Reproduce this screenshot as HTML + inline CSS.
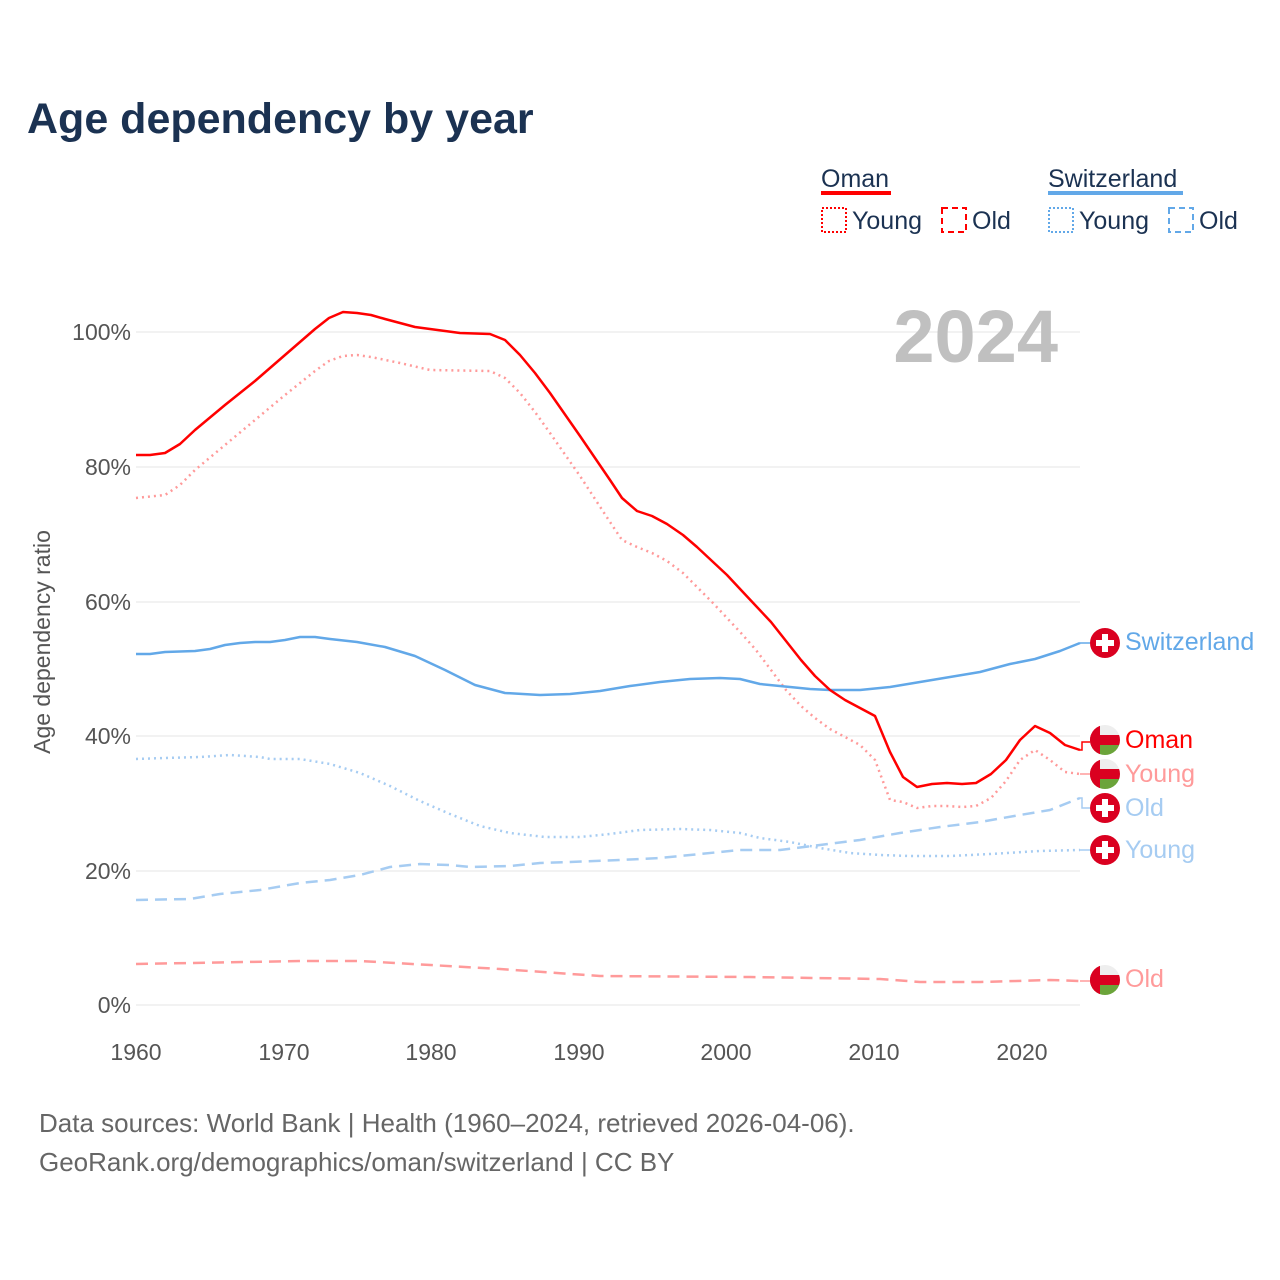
<!DOCTYPE html>
<html><head><meta charset="utf-8"><style>
body{margin:0;background:#fff;}
svg{display:block;font-family:"Liberation Sans",sans-serif;}
</style></head><body>
<svg width="1280" height="1280" viewBox="0 0 1280 1280" xmlns="http://www.w3.org/2000/svg">
<rect width="1280" height="1280" fill="#fff"/>
<text x="27" y="133" font-size="43" font-weight="bold" fill="#1b3252">Age dependency by year</text>
<g font-size="25" fill="#1b3252">
<text x="821" y="187">Oman</text>
<rect x="821" y="191" width="70" height="4" fill="#ff0000"/>
<text x="1048" y="187">Switzerland</text>
<rect x="1048" y="191" width="135" height="4" fill="#62a8e8"/>
<rect x="822" y="208" width="24" height="24" fill="none" stroke="#ff0000" stroke-width="2" stroke-dasharray="2,2"/>
<text x="852" y="229">Young</text>
<rect x="942" y="208" width="24" height="24" fill="none" stroke="#ff0000" stroke-width="2" stroke-dasharray="6,4"/>
<text x="972" y="229">Old</text>
<rect x="1049" y="208" width="24" height="24" fill="none" stroke="#62a8e8" stroke-width="2" stroke-dasharray="2,2"/>
<text x="1079" y="229">Young</text>
<rect x="1169" y="208" width="24" height="24" fill="none" stroke="#62a8e8" stroke-width="2" stroke-dasharray="6,4"/>
<text x="1199" y="229">Old</text>
</g>
<g stroke="#e6e6e6" stroke-width="1">
<line x1="136" y1="332" x2="1080" y2="332"/><line x1="136" y1="467" x2="1080" y2="467"/>
<line x1="136" y1="602" x2="1080" y2="602"/><line x1="136" y1="736" x2="1080" y2="736"/>
<line x1="136" y1="871" x2="1080" y2="871"/><line x1="136" y1="1005" x2="1080" y2="1005"/>
</g>
<text x="1058" y="362" font-size="74" font-weight="bold" fill="#c0c0c0" text-anchor="end">2024</text>
<g font-size="23" fill="#555" text-anchor="end">
<text x="131" y="340">100%</text><text x="131" y="475">80%</text><text x="131" y="610">60%</text>
<text x="131" y="744">40%</text><text x="131" y="879">20%</text><text x="131" y="1013">0%</text>
</g>
<g font-size="23" fill="#555" text-anchor="middle">
<text x="136" y="1060">1960</text><text x="284" y="1060">1970</text><text x="431" y="1060">1980</text>
<text x="579" y="1060">1990</text><text x="726" y="1060">2000</text><text x="874" y="1060">2010</text><text x="1022" y="1060">2020</text>
</g>
<text transform="translate(50,642) rotate(-90)" font-size="23" fill="#555" text-anchor="middle">Age dependency ratio</text>
<g fill="none" stroke-width="2.5" stroke-linejoin="round">
<polyline stroke="#ff9a9a" stroke-dasharray="12,7" points="136,964 300,961 360,961 500,969 600,976 750,977 880,979 920,982 980,982 1050,980 1080,981"/>
<polyline stroke="#a6ccf2" stroke-dasharray="12,7" points="136,900 190,899 220,894 260,890 300,883 330,880 360,875 390,867 420,864 450,865 470,867 510,866 540,863 570,862 620,860 660,858 700,854 740,850 780,850 820,845 860,840 900,833 940,827 980,822 1020,815 1050,810 1080,798"/>
<polyline stroke="#a6ccf2" stroke-dasharray="2,4" points="136,759 165,758 200,757 230,755 260,757 270,759 300,759 330,764 360,773 390,786 420,801 450,814 480,826 510,833 545,837 580,837 610,834 640,830 680,829 710,830 740,833 760,838 790,842 820,848 850,853 880,855 910,856 950,856 990,854 1040,851 1080,850"/>
<polyline stroke="#ff9a9a" stroke-dasharray="2,4" points="136,498 165,495 180,485 195,470 225,445 255,420 285,395 315,371 329,361 343,356 357,355 371,357 400,363 430,370 490,371 505,378 520,393 535,412 550,433 580,476 610,522 622,540 637,547 652,553 667,561 683,573 697,587 712,602 727,618 741,633 756,650 771,670 786,690 801,706 815,718 830,729 845,737 860,745 875,760 890,800 903,802 917,808 932,806 947,806 962,807 976,806 991,798 1006,781 1020,760 1035,750 1050,760 1065,772 1080,774"/>
<polyline stroke="#62a8e8" points="136,654 150,654 165,652 195,651 210,649 225,645 240,643 255,642 270,642 285,640 300,637 315,637 330,639 357,642 385,647 415,656 445,670 475,685 505,693 540,695 570,694 600,691 630,686 660,682 690,679 720,678 740,679 760,684 790,687 810,689 830,690 860,690 890,687 920,682 950,677 980,672 1010,664 1035,659 1060,651 1080,643"/>
<polyline stroke="#ff0000" points="136,455 150,455 165,453 180,444 195,430 225,405 255,381 285,355 315,329 329,318 343,312 357,313 371,315 385,319 400,323 415,327 430,329 460,333 490,334 505,340 520,355 535,373 550,393 580,436 610,480 622,498 637,511 652,516 667,524 683,535 697,547 712,561 727,575 741,590 756,606 771,622 786,641 801,660 815,676 830,690 845,700 860,708 875,716 890,752 903,777 917,787 932,784 947,783 962,784 976,783 991,774 1006,760 1020,740 1035,726 1050,733 1065,745 1080,750"/>
</g>
<g fill="none" stroke-width="1.5">
<polyline stroke="#62a8e8" points="1080,643 1090,643"/>
<polyline stroke="#ff0000" points="1080,750 1082,750 1082,742 1090,742"/>
<polyline stroke="#ff9a9a" points="1080,774 1090,774"/>
<polyline stroke="#a6ccf2" points="1080,798 1082,798 1082,808 1090,808"/>
<polyline stroke="#a6ccf2" points="1080,850 1090,850"/>
<polyline stroke="#ff9a9a" points="1080,981 1090,981"/>
</g>
<defs>
<g id="ch"><circle r="15" fill="#da0020"/><rect x="-3" y="-9" width="6" height="18" fill="#fff"/><rect x="-9" y="-3" width="18" height="6" fill="#fff"/></g>
<clipPath id="cc"><circle r="15"/></clipPath>
<g id="om"><g clip-path="url(#cc)"><rect x="-15" y="-15" width="30" height="30" fill="#eee"/><rect x="-15" y="-5" width="30" height="10" fill="#da0020"/><rect x="-15" y="5" width="30" height="10" fill="#6ba43a"/><rect x="-15" y="-15" width="10" height="30" fill="#da0020"/></g></g>
</defs>
<use href="#ch" x="1105" y="643"/>
<use href="#om" x="1105" y="740"/>
<use href="#om" x="1105" y="774"/>
<use href="#ch" x="1105" y="808"/>
<use href="#ch" x="1105" y="850"/>
<use href="#om" x="1105" y="980"/>
<g font-size="25">
<text x="1125" y="650" fill="#62a8e8">Switzerland</text>
<text x="1125" y="748" fill="#ff0000">Oman</text>
<text x="1125" y="782" fill="#ff9a9a">Young</text>
<text x="1125" y="816" fill="#a6ccf2">Old</text>
<text x="1125" y="858" fill="#a6ccf2">Young</text>
<text x="1125" y="987" fill="#ff9a9a">Old</text>
</g>
<g font-size="26" fill="#666">
<text x="39" y="1132">Data sources: World Bank | Health (1960–2024, retrieved 2026-04-06).</text>
<text x="39" y="1171">GeoRank.org/demographics/oman/switzerland | CC BY</text>
</g>
</svg>
</body></html>
